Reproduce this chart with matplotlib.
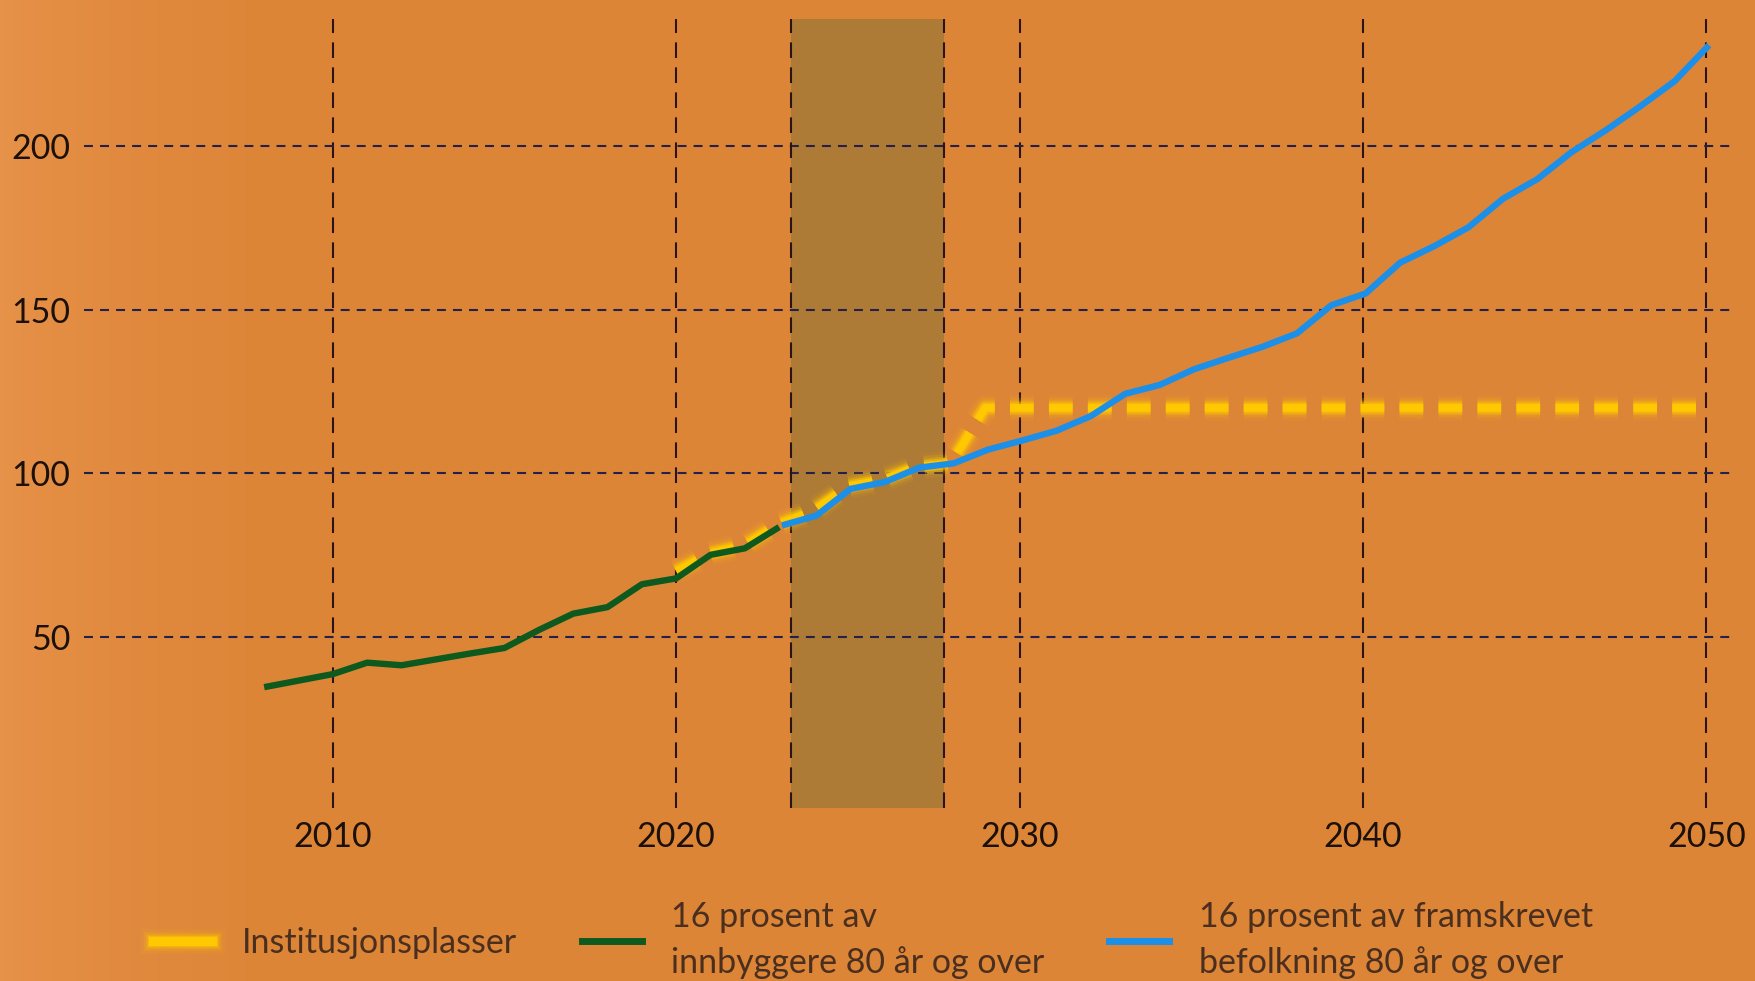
import numpy as np
import matplotlib.pyplot as plt
import matplotlib.patheffects as pe
from matplotlib.lines import Line2D

plt.rcParams['font.family'] = ['Lato', 'DejaVu Sans']

# data
years_hist = np.arange(2008, 2024)
innbyggere = [34.5, 36.5, 38.5, 42, 41.2, 43, 44.8, 46.5, 52, 57, 59, 66, 67.8, 75, 77, 83.5]

years_proj = np.arange(2023, 2051)
framskrevet = [84, 87, 95.2, 97.3, 101.7, 103, 107.2, 110, 113, 117.5,
               124.3, 127, 131.8, 135.3, 138.7, 142.8, 151.4, 155, 164.4, 169.5,
               175.3, 184, 190, 198.3, 205, 212.3, 220, 231]

years_plasser = np.arange(2020, 2051)
plasser = [70, 75.5, 78, 84.5, 88.5, 96, 98, 102, 103] + [120] * 22

shade_start, shade_end = 2023.35, 2027.8

xticks = [2010, 2020, 2030, 2040, 2050]
yticks = [50, 100, 150, 200]

labels = ['Institusjonsplasser',
          '16 prosent av\ninnbyggere 80 år og over',
          '16 prosent av framskrevet\nbefolkning 80 år og over']

c_yellow = '#FFC800'
c_green = '#0E5A1E'
c_blue = '#1C8FE8'
c_text = '#1c100a'

fig = plt.figure(figsize=(17.55, 9.81), dpi=100)

# orange background, slightly lighter at the left edge
bg = fig.add_axes([0, 0, 1, 1], zorder=-10)
xs = np.linspace(0, 1, 400)
t = np.clip(xs / 0.15, 0, 1) ** 0.7
left = np.array([231, 146, 74]) / 255
mid = np.array([221, 133, 55]) / 255
grad = left[None, :] * (1 - t[:, None]) + mid[None, :] * t[:, None]
bg.imshow(grad[None, :, :], extent=[0, 1, 0, 1], aspect='auto')
bg.axis('off')

ax = fig.add_axes([0.048, 0.1763, 0.9395, 0.8043])
ax.set_facecolor('none')

ax.axvspan(shade_start, shade_end, color='#AE7B36', lw=0, zorder=0.2)
for xv in (shade_start, shade_end):
    ax.axvline(xv, color='#2a1418', lw=1.5, ls=(0, (7.5, 4.5)), zorder=0.6)

ax.set_axisbelow(True)
ax.grid(axis='x', color='#2a1418', lw=1.5, ls=(0, (7.5, 4.5)))
ax.grid(axis='y', color='#23214c', lw=1.5, ls=(0, (4.3, 3.4)))

glow = [pe.Stroke(linewidth=18, foreground=c_yellow, alpha=0.07),
        pe.Stroke(linewidth=14, foreground=c_yellow, alpha=0.15),
        pe.Stroke(linewidth=10.5, foreground=c_yellow, alpha=0.3),
        pe.Stroke(linewidth=8, foreground=c_yellow, alpha=0.5),
        pe.Normal()]

ax.plot(years_plasser, plasser, color=c_yellow, lw=5.5, ls=(0, (3.1, 2.0)),
        path_effects=glow, zorder=2)
ax.plot(years_hist, innbyggere, color=c_green, lw=4.6, zorder=3,
        solid_capstyle='butt', solid_joinstyle='round')
ax.plot(years_proj + 0.08, framskrevet, color=c_blue, lw=4.6, zorder=3,
        solid_capstyle='butt', solid_joinstyle='round')

ax.set_xlim(2002.76, 2050.78)
ax.set_ylim(-2.5, 239)
ax.set_xticks(xticks)
ax.set_yticks(yticks)
ax.tick_params(length=0, labelsize=24.5, labelcolor=c_text)
ax.tick_params(axis='y', pad=10)
ax.tick_params(axis='x', pad=9)
for s in ax.spines.values():
    s.set_visible(False)

handles = [Line2D([], [], color=c_yellow, lw=6.5, path_effects=glow),
           Line2D([], [], color=c_green, lw=5),
           Line2D([], [], color=c_blue, lw=5)]
leg = fig.legend(handles, labels, loc='center left', bbox_to_anchor=(0.087, 0.042),
                 ncol=3, frameon=False, fontsize=24.5, handlelength=1.75,
                 handletextpad=0.88, columnspacing=1.9, borderpad=0,
                 borderaxespad=0, labelcolor='#4a2f1f')
for txt in leg.get_texts():
    txt.set_linespacing(1.5)

fig.savefig('out.png', dpi=100)
